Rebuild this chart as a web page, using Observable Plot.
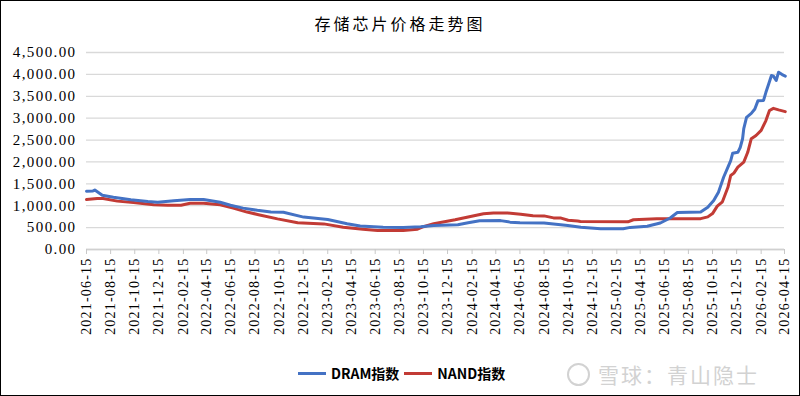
<!DOCTYPE html>
<html>
<head>
<meta charset="utf-8">
<script src="https://cdn.jsdelivr.net/npm/d3@7"></script>
<script src="https://cdn.jsdelivr.net/npm/@observablehq/plot@0.6"></script>
<style>
  html, body { margin: 0; padding: 0; background: #fff; }
  #frame { position: relative; width: 800px; height: 396px; box-sizing: border-box; border: 1px solid #000; overflow: hidden; }
  #title { position: absolute; left: 0; top: 10px; width: 798px; text-align: center; font-family: "Noto Sans CJK SC", sans-serif; font-size: 16px; letter-spacing: 3px; color: #000; }
  #chart { position: absolute; left: 0; top: 39px; }
  #chart svg text { letter-spacing: 1.2px; }
  #chart svg g[aria-label="y-axis tick label"] text { letter-spacing: 1.4px; }
  #legend { position: absolute; top: 362px; left: 297px; display: flex; align-items: center; font-family: "Liberation Sans Narrow", "Noto Sans CJK SC", sans-serif; font-size: 14px; font-weight: 600; color: #000; }
  .sw { display: inline-block; width: 28px; height: 3px; margin-right: 5px; }
  .item { display: flex; align-items: center; margin-right: 5px; }
  #wm { position: absolute; left: 566px; top: 358px; display: flex; align-items: center; font-family: "Noto Sans CJK SC", sans-serif; font-size: 21px; color: #d2d2d2; letter-spacing: 2px; }
  #logo { width: 19px; height: 19px; border: 2px solid #d2d2d2; border-radius: 50%; margin-right: 8px; position: relative; }
</style>
</head>
<body>
<div id="frame">
  <div id="title">存储芯片价格走势图</div>
  <div id="chart"></div>
  <div id="legend">
    <span class="item"><span class="sw" style="background:#4472C4"></span>DRAM指数</span>
    <span class="item"><span class="sw" style="background:#C23B35"></span>NAND指数</span>
  </div>
  <div id="wm"><span id="logo"></span>雪球：青山隐士</div>
</div>
<script>
const yTicks = [0, 500, 1000, 1500, 2000, 2500, 3000, 3500, 4000, 4500];
const xTickLabels = ["2021-06-15","2021-08-15","2021-10-15","2021-12-15","2022-02-15","2022-04-15","2022-06-15","2022-08-15","2022-10-15","2022-12-15","2023-02-15","2023-04-15","2023-06-15","2023-08-15","2023-10-15","2023-12-15","2024-02-15","2024-04-15","2024-06-15","2024-08-15","2024-10-15","2024-12-15","2025-02-15","2025-04-15","2025-06-15","2025-08-15","2025-10-15","2025-12-15","2026-02-15","2026-04-15"];

const dramDates = ["2021-06-15","2021-07-01","2021-07-06","2021-07-25","2021-08-22","2021-10-05","2021-11-17","2021-12-12","2022-01-22","2022-03-04","2022-04-07","2022-05-19","2022-06-14","2022-07-16","2022-08-21","2022-09-24","2022-10-26","2022-12-16","2023-02-15","2023-04-05","2023-05-08","2023-07-05","2023-08-25","2023-10-08","2023-11-10","2024-01-10","2024-02-05","2024-03-05","2024-04-27","2024-05-21","2024-06-15","2024-08-15","2024-10-14","2024-11-16","2025-01-05","2025-03-03","2025-03-21","2025-05-03","2025-06-05","2025-06-30","2025-07-18","2025-09-15","2025-10-03","2025-10-18","2025-10-30","2025-11-12","2025-11-23","2025-11-30","2025-12-05","2025-12-18","2025-12-24","2025-12-30","2026-01-02","2026-01-09","2026-01-21","2026-01-30","2026-02-07","2026-02-21","2026-02-27","2026-03-06","2026-03-13","2026-03-18","2026-03-25","2026-03-31","2026-04-09","2026-04-17"];
const dramValues = [1330,1335,1360,1240,1195,1135,1096,1080,1115,1140,1140,1080,1010,945,895,855,850,740,685,590,535,510,505,520,548,565,610,655,660,625,610,605,550,510,475,472,505,530,605,720,845,855,965,1120,1310,1650,1880,2030,2200,2220,2330,2530,2760,3020,3110,3210,3400,3405,3590,3780,3975,3960,3860,4050,3995,3960];

const nandDates = ["2021-06-15","2021-07-12","2021-07-27","2021-09-01","2021-10-12","2021-12-02","2022-01-06","2022-02-09","2022-03-04","2022-04-07","2022-05-19","2022-06-21","2022-07-26","2022-08-24","2022-10-11","2022-12-01","2023-02-05","2023-03-26","2023-05-15","2023-06-21","2023-08-25","2023-09-30","2023-10-15","2023-11-10","2024-01-03","2024-02-08","2024-03-15","2024-04-09","2024-05-15","2024-06-17","2024-07-18","2024-08-15","2024-09-08","2024-09-27","2024-10-15","2024-11-08","2024-11-15","2025-03-15","2025-03-29","2025-05-27","2025-09-15","2025-10-03","2025-10-15","2025-10-27","2025-11-09","2025-11-23","2025-11-30","2025-12-08","2025-12-18","2026-01-02","2026-01-12","2026-01-21","2026-02-02","2026-02-15","2026-02-27","2026-03-08","2026-03-18","2026-03-31","2026-04-17"];
const nandValues = [1140,1165,1165,1105,1073,1020,1010,1012,1055,1058,1020,945,855,795,700,610,585,510,465,435,434,464,520,590,678,750,815,835,835,806,770,768,722,718,668,650,640,632,680,700,705,745,820,990,1090,1420,1690,1745,1880,1995,2220,2530,2605,2720,2945,3175,3225,3190,3150];

const parse = d3.utcParse("%Y-%m-%d");
const dram = dramDates.map((d, i) => ({date: parse(d), value: dramValues[i]}));
const nand = nandDates.map((d, i) => ({date: parse(d), value: nandValues[i]}));
const xTicks = xTickLabels.map(parse);

const chart = Plot.plot({
  width: 798,
  height: 305,
  marginLeft: 85,
  marginRight: 15,
  marginTop: 12,
  marginBottom: 96,
  style: {fontFamily: "'Liberation Serif', serif", fontSize: "14px", color: "#000", background: "transparent"},
  x: {type: "utc", domain: [parse("2021-06-15"), parse("2026-04-15")], label: null},
  y: {domain: [0, 4500], label: null},
  marks: [
    Plot.gridY(yTicks, {stroke: "#d9d9d9", strokeOpacity: 1, strokeWidth: 1.3}),
    Plot.axisY(yTicks, {tickSize: 0, tickPadding: 10, tickFormat: d3.format(",.2f"), fontSize: 15, label: null}),
    Plot.ruleY([0], {stroke: "#d0d0d0", strokeWidth: 1.3}),
    Plot.axisX(xTicks, {tickRotate: -90, tickSize: 5, tickPadding: 3, stroke: "#c8c8c8", fill: "#000", tickFormat: d3.utcFormat("%Y-%m-%d"), fontSize: 14, label: null}),
    Plot.line(nand, {x: "date", y: "value", stroke: "#C23B35", strokeWidth: 3, strokeLinejoin: "round"}),
    Plot.line(dram, {x: "date", y: "value", stroke: "#4472C4", strokeWidth: 3, strokeLinejoin: "round"})
  ]
});
document.getElementById("chart").appendChild(chart);
</script>
</body>
</html>
